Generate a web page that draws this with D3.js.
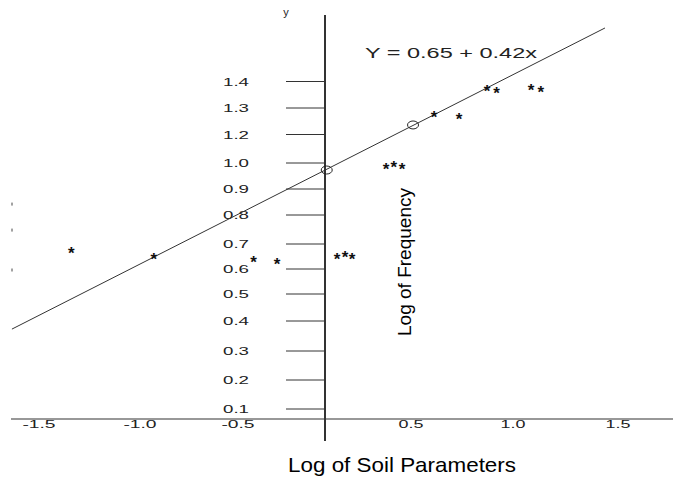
<!DOCTYPE html>
<html>
<head>
<meta charset="utf-8">
<script src="https://cdn.jsdelivr.net/npm/d3@7"></script>
<style>
  body { margin: 0; background: #fff; }
  text { font-family: "Liberation Sans", Arial, sans-serif; fill: #222; }
</style>
</head>
<body>
<div id="chart"></div>
<script>
// values
var xTicks = [-1.5, -1.0, -0.5, 0.5, 1.0, 1.5];
var xTickLabels = ['-1.5', '-1.0', '-0.5', '0.5', '1.0', '1.5'];
var yTicks = [0.1, 0.2, 0.3, 0.4, 0.5, 0.6, 0.7, 0.8, 0.9, 1.0, 1.2, 1.3, 1.4];
var yTickLabels = ['0.1', '0.2', '0.3', '0.4', '0.5', '0.6', '0.7', '0.8', '0.9', '1.0', '1.2', '1.3', '1.4'];

var starX = [-1.34, -0.93, -0.41, -0.276, 0.07, 0.116, 0.157, 0.355, 0.40, 0.448, 0.613, 0.735, 0.873, 0.92, 1.086, 1.133];
var starY = [0.676, 0.652, 0.64, 0.632, 0.652, 0.66, 0.652, 0.988, 0.996, 0.988, 1.277, 1.27, 1.375, 1.368, 1.379, 1.374];

var fitX = [0.01, 0.51];
var fitY = [0.973, 1.236];

var lineX = [-1.634, 1.438];
var lineY = [0.373, 1.602];

var edgeY = [0.842, 0.748, 0.596];

var equation = 'Y = 0.65 + 0.42x';

var W = 673, H = 481;

// the printed axes are uneven, so the scales follow the printed tick spacing
var x = d3.scaleLinear()
  .domain([-1.5, -1.0, -0.5, 0, 0.5, 1.0, 1.5])
  .range([39, 140, 238, 325, 411, 513, 618]);
var y = d3.scaleLinear()
  .domain(yTicks)
  .range([409, 380, 351, 321, 294, 269, 244, 215, 189, 163, 134.5, 108, 81.5]);

var axisX = x(0);
var axisY = 419;

var svg = d3.select('#chart')
  .append('svg')
  .attr('width', W)
  .attr('height', H);

svg.append('rect')
  .attr('width', W)
  .attr('height', H)
  .style('fill', '#fff');

// x axis
svg.append('line')
  .attr('x1', 11).attr('x2', 673)
  .attr('y1', axisY).attr('y2', axisY)
  .style('stroke', '#333')
  .style('stroke-width', 1.2);

svg.selectAll('.xlab')
  .data(xTicks)
  .enter().append('text')
  .attr('class', 'xlab')
  .attr('x', function (d) { return x(d); })
  .attr('y', axisY + 9)
  .attr('text-anchor', 'middle')
  .attr('textLength', function (d, i) { return xTickLabels[i].length * 8.3; })
  .attr('lengthAdjust', 'spacingAndGlyphs')
  .style('font-size', '11px')
  .text(function (d, i) { return xTickLabels[i]; });

// y axis
svg.append('line')
  .attr('x1', axisX).attr('x2', axisX)
  .attr('y1', 15).attr('y2', 441)
  .style('stroke', '#333')
  .style('stroke-width', 2);

svg.append('text')
  .attr('x', 286)
  .attr('y', 16)
  .attr('text-anchor', 'middle')
  .style('font-size', '11px')
  .text('y');

svg.selectAll('.ytick')
  .data(yTicks)
  .enter().append('line')
  .attr('class', 'ytick')
  .attr('x1', axisX - 39)
  .attr('x2', axisX)
  .attr('y1', function (d) { return y(d); })
  .attr('y2', function (d) { return y(d); })
  .style('stroke', '#333')
  .style('stroke-width', 1);

svg.selectAll('.ylab')
  .data(yTicks)
  .enter().append('text')
  .attr('class', 'ylab')
  .attr('x', 236)
  .attr('y', function (d) { return y(d) + 4; })
  .attr('text-anchor', 'middle')
  .attr('textLength', 26)
  .attr('lengthAdjust', 'spacingAndGlyphs')
  .style('font-size', '10.5px')
  .text(function (d, i) { return yTickLabels[i]; });

// stray marks at the left edge
svg.selectAll('.edge')
  .data(edgeY)
  .enter().append('line')
  .attr('class', 'edge')
  .attr('x1', 12).attr('x2', 12)
  .attr('y1', function (d) { return y(d) - 1.5; })
  .attr('y2', function (d) { return y(d) + 1.5; })
  .style('stroke', '#444')
  .style('stroke-width', 1);

// fitted line
var line = d3.line()
  .x(function (d) { return x(d[0]); })
  .y(function (d) { return y(d[1]); });

svg.append('path')
  .datum(d3.zip(lineX, lineY))
  .attr('d', line)
  .style('fill', 'none')
  .style('stroke', '#333')
  .style('stroke-width', 1);

svg.selectAll('.fit')
  .data(d3.zip(fitX, fitY))
  .enter().append('ellipse')
  .attr('class', 'fit')
  .attr('cx', function (d) { return x(d[0]); })
  .attr('cy', function (d) { return y(d[1]); })
  .attr('rx', 5.5)
  .attr('ry', 4)
  .style('fill', 'none')
  .style('stroke', '#222')
  .style('stroke-width', 1);

// data points
svg.selectAll('.star')
  .data(d3.zip(starX, starY))
  .enter().append('text')
  .attr('class', 'star')
  .attr('x', function (d) { return x(d[0]); })
  .attr('y', function (d) { return y(d[1]); })
  .attr('dy', '0.55em')
  .attr('text-anchor', 'middle')
  .style('font-size', '17px')
  .style('font-weight', 'bold')
  .style('fill', '#111')
  .text('*');

svg.append('text')
  .attr('x', 365)
  .attr('y', 58)
  .attr('textLength', 172)
  .attr('lengthAdjust', 'spacingAndGlyphs')
  .style('font-size', '14px')
  .text(equation);

// axis titles
svg.append('text')
  .attr('transform', 'translate(411,262) rotate(-90)')
  .attr('text-anchor', 'middle')
  .attr('textLength', 148)
  .attr('lengthAdjust', 'spacingAndGlyphs')
  .style('font-size', '18.5px')
  .style('fill', '#000')
  .text('Log of Frequency');

svg.append('text')
  .attr('x', 402)
  .attr('y', 472)
  .attr('text-anchor', 'middle')
  .attr('textLength', 228)
  .attr('lengthAdjust', 'spacingAndGlyphs')
  .style('font-size', '21px')
  .style('fill', '#000')
  .text('Log of Soil Parameters');
</script>
</body>
</html>
